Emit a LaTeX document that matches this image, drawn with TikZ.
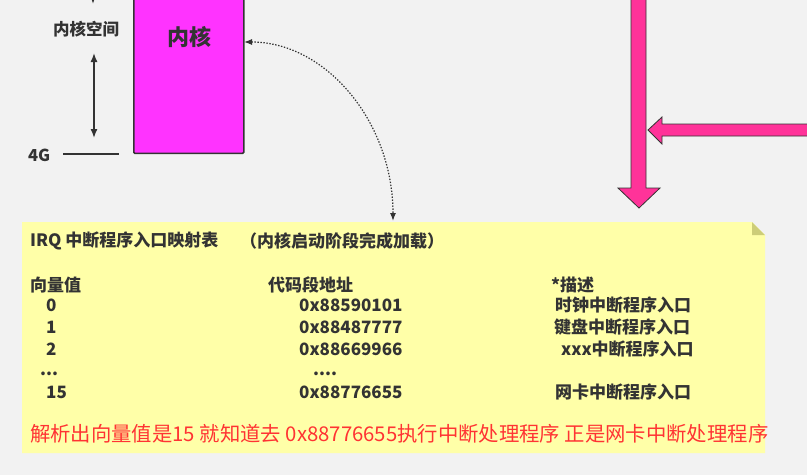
\documentclass[tikz,border=0pt]{standalone}
\usepackage{fontspec}
\setmainfont{Noto Sans CJK SC}
\usetikzlibrary{arrows.meta}
\definecolor{bg}{HTML}{F2F2F2}
\definecolor{ink}{HTML}{333333}
\definecolor{kern}{HTML}{FF33FF}
\definecolor{pinkarrow}{HTML}{FF3399}
\definecolor{notefill}{HTML}{FFFFA8}
\definecolor{noteear}{HTML}{CDCD78}
\definecolor{redtext}{HTML}{FF3333}
\tikzset{
  txt/.style={inner sep=0pt, anchor=west, text=ink, font=\bfseries\fontsize{17}{20}\selectfont},
  small/.style={txt, font=\bfseries\fontsize{16.5}{20}\selectfont},
  redline/.style={inner sep=0pt, anchor=west, text=redtext, font=\fontsize{20.35}{24}\selectfont},
  conn/.style={draw=ink, line width=1.4pt},
  bigarrow/.style={fill=pinkarrow, draw=ink, line width=0.8pt, line join=miter},
}
\begin{document}
\begin{tikzpicture}[x=1pt,y=-1pt]
\useasboundingbox[fill=bg] (0,0) rectangle (807,475);

% kernel box
\node[draw=ink, fill=kern, line width=1.5pt, rounded corners=1pt, minimum width=110pt, minimum height=170pt, anchor=south west, inner sep=0pt] (kernel) at (133,154) {};
\node[txt, anchor=center, font=\bfseries\fontsize{22}{26}\selectfont] (kerneltext) at (189,37) {内核};

% left scale
\coordinate (topa) at (93,-12);
\coordinate (topb) at (93,4);
\draw[conn, -{Latex[length=8pt,width=6pt]}] (topa) -- (topb);
\node[small, anchor=center] (kspace) at (86,29) {内核空间};
\coordinate (da) at (94,53);
\coordinate (db) at (94,138);
\draw[conn, {Latex[length=9pt,width=7pt]}-{Latex[length=9pt,width=7pt]}] (da) -- (db);
\node[small] (fourg) at (28,155) {4G};
\coordinate (ga) at (63,154);
\coordinate (gb) at (119,154);
\draw[conn] (ga) -- (gb);

% dotted curved connector
\coordinate (ka) at (244,42);
\coordinate (nb) at (393,221);
\draw[draw=ink, line width=1.2pt, dash pattern=on 1.4pt off 1.6pt, {Latex[length=8pt,width=6pt]}-{Latex[length=8pt,width=6pt]}]
  (ka) .. controls (326,42) and (393,122) .. (nb);

% pink arrows
\draw[bigarrow] (631,-3) -- (646,-3) -- (646,188) -- (660,188) -- (639,208) -- (618,188) -- (631,188) -- cycle;
\draw[bigarrow] (812,124) -- (662,124) -- (662,117) -- (648,130) -- (662,144) -- (662,136) -- (812,136) -- cycle;

% note
\fill[notefill] (22,222) -- (752,222) -- (765,235) -- (765,453) -- (22,453) -- cycle;
\fill[noteear] (752,222) -- (765,235) -- (752,235) -- cycle;
\node (note) at (393,337) {};

\node[txt] (title) at (30,241) {IRQ 中断程序入口映射表};
\node[txt] (title2) at (240,241) {（内核启动阶段完成加载）};

\node[txt] (h1) at (30,285) {向量值};
\node[txt] (h2) at (268,285) {代码段地址};
\node[txt] (h3) at (551,285) {*描述};

\node[txt] (v0) at (46,305) {0};
\node[txt] (a0) at (299,305) {0x88590101};
\node[txt] (d0) at (555,305) {时钟中断程序入口};

\node[txt] (v1) at (46,327) {1};
\node[txt] (a1) at (299,327) {0x88487777};
\node[txt] (d1) at (554,327) {键盘中断程序入口};

\node[txt] (v2) at (46,349) {2};
\node[txt] (a2) at (299,349) {0x88669966};
\node[txt] (d2) at (561,349) {xxx中断程序入口};

\node[txt, anchor=base west] (vd) at (40,375) {...};
\node[txt, anchor=base west] (ad) at (313,375) {....};

\node[txt] (v15) at (46,392) {15};
\node[txt] (a15) at (299,392) {0x88776655};
\node[txt] (d15) at (555,392) {网卡中断程序入口};

\node[redline] (red) at (30,434) {解析出向量值是15 就知道去 0x88776655执行中断处理程序 正是网卡中断处理程序};
\end{tikzpicture}
\end{document}
